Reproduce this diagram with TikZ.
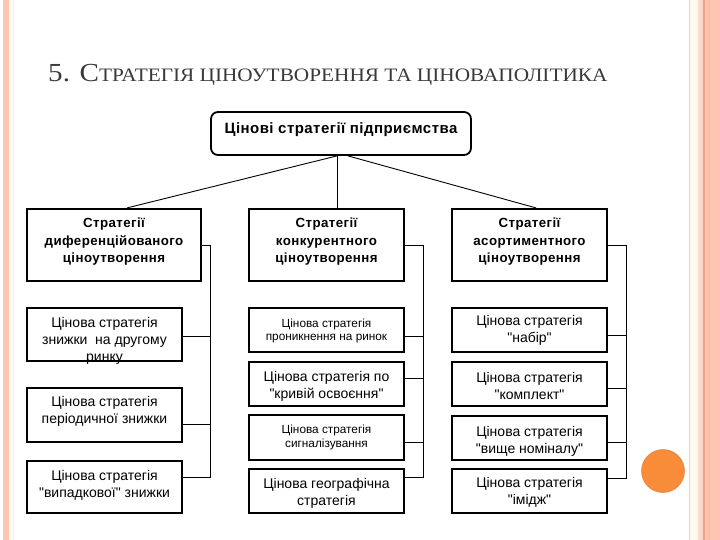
\documentclass[tikz,border=0pt]{standalone}
\usepackage{fontspec}
\setmainfont{Liberation Sans}
\newfontfamily\titlefont{Liberation Serif}
\definecolor{stripe}{HTML}{FCC6B2}
\definecolor{cream}{HTML}{FFF8EC}
\definecolor{salmon}{HTML}{F2A080}
\definecolor{orangedot}{HTML}{F98C38}
\definecolor{titlegray}{HTML}{3A3A3A}
\newcommand{\qq}{\textquotedbl}
\tikzset{
  topbox/.style={draw, line width=1.8pt, rounded corners=7pt, minimum width=260pt, minimum height=43pt, inner sep=0pt},
  lvtwo/.style={draw, line width=2.2pt, minimum height=72pt, inner sep=0pt},
  lvthree/.style={draw, line width=1.1pt, minimum width=155pt, inner sep=0pt},
  boldtxt/.style={align=center, inner sep=0pt, font=\bfseries\fontsize{13.3}{17.5}\selectfont\addfontfeature{LetterSpace=3}},
  normtxt/.style={align=center, inner sep=0pt, font=\fontsize{14}{17}\selectfont},
  smalltxt/.style={align=center, inner sep=0pt, font=\fontsize{11.8}{13.5}\selectfont},
  conn/.style={line width=0.9pt}
}
\begin{document}
\begin{tikzpicture}[x=1pt,y=-1pt]
\useasboundingbox (0,0) rectangle (720,540);
\fill[white] (0,0) rectangle (720,540);
% slide decoration
\fill[stripe] (3,0) rectangle (9,540);
\fill[cream] (10,0) rectangle (12,540);
\fill[stripe!40] (13,0) rectangle (14,540);
\fill[stripe!70!brown!60] (688.5,0) rectangle (690,540);
\fill[cream] (690,0) rectangle (698,540);
\fill[stripe!60] (698,0) rectangle (700,540);
\fill[stripe!70] (700,0) rectangle (703,540);
\fill[salmon] (703,0) rectangle (705,540);
\fill[stripe] (705,0) rectangle (708,540);
\fill[salmon!70] (708,0) rectangle (710,540);
\fill[stripe] (710,0) rectangle (720,540);
\node[circle, fill=orangedot, draw=orangedot!90!black, line width=0.5pt, minimum size=43pt, inner sep=0pt] (dot) at (663,471) {};
% title
\node[anchor=base west, inner sep=0pt, text=titlegray, font=\titlefont] (title) at (48,82)
  {\scalebox{1.12}[1]{\fontsize{26}{26}\selectfont 5. С\fontsize{19}{19}\selectfont ТРАТЕГІЯ ЦІНОУТВОРЕННЯ ТА ЦІНОВАПОЛІТИКА}};
% top
\node[topbox] (top) at (341,133.5) {};
\node[boldtxt, font=\bfseries\fontsize{15}{17}\selectfont\addfontfeature{LetterSpace=3}] (topt) at (341,130) {Цінові стратегії підприємства};
% level 2
\node[lvtwo, minimum width=174pt] (la) at (114,245) {};
\node[boldtxt] (lat) at (114,242) {Стратегії\\диференційованого\\ціноутворення};
\node[lvtwo, minimum width=155pt] (ma) at (326.5,245) {};
\node[boldtxt] (mat) at (326.5,242) {Стратегії\\конкурентного\\ціноутворення};
\node[lvtwo, minimum width=155pt] (ra) at (529.5,245) {};
\node[boldtxt] (rat) at (529.5,242) {Стратегії\\асортиментного\\ціноутворення};
% level 3 left
\node[lvthree, minimum height=53pt] (l1) at (104.5,334.5) {};
\node[normtxt] (l1t) at (104.5,341) {Цінова стратегія\\знижки~~на другому\\ринку};
\node[lvthree, minimum height=54pt] (l2) at (104.5,415) {};
\node[normtxt] (l2t) at (104.5,411) {Цінова стратегія\\періодичної знижки};
\node[lvthree, minimum height=52pt] (l3) at (104.5,487) {};
\node[normtxt] (l3t) at (104.5,485) {Цінова стратегія\\\qq випадкової\qq{} знижки};
% level 3 middle
\node[lvthree, minimum height=44pt] (m1) at (326.5,330) {};
\node[smalltxt] (m1t) at (326.5,331) {Цінова стратегія\\проникнення на ринок};
\node[lvthree, minimum height=44pt] (m2) at (326.5,384) {};
\node[normtxt] (m2t) at (326.5,386) {Цінова стратегія по\\\qq кривій освоєння\qq};
\node[lvthree, minimum height=45pt] (m3) at (326.5,437.5) {};
\node[smalltxt] (m3t) at (326.5,437.5) {Цінова стратегія\\сигналізування};
\node[lvthree, minimum height=44pt] (m4) at (326.5,491) {};
\node[normtxt] (m4t) at (326.5,493) {Цінова географічна\\стратегія};
% level 3 right
\node[lvthree, minimum height=44pt] (r1) at (529.5,330) {};
\node[normtxt] (r1t) at (529.5,330) {Цінова стратегія\\\qq набір\qq};
\node[lvthree, minimum height=44pt] (r2) at (529.5,384) {};
\node[normtxt] (r2t) at (529.5,386) {Цінова стратегія\\\qq комплект\qq};
\node[lvthree, minimum height=44pt] (r3) at (529.5,438) {};
\node[normtxt] (r3t) at (529.5,441) {Цінова стратегія\\\qq вище номіналу\qq};
\node[lvthree, minimum height=44pt] (r4) at (529.5,491) {};
\node[normtxt] (r4t) at (529.5,492) {Цінова стратегія\\\qq імідж\qq};
% top connectors
\coordinate (hub) at ([xshift=-4pt]top.south);
\coordinate (hubr) at ([xshift=7pt]top.south);
\draw[conn] (hub) -- ([xshift=13pt]la.north);
\draw[conn] (hub) -- ([xshift=10.5pt]ma.north);
\draw[conn] (hubr) -- ([xshift=6.5pt]ra.north);
% bus left
\coordinate (busl) at (210,245);
\draw[conn] (la.east |- busl) -- (busl) -- (busl |- 0,477) -- (l3.east |- 0,477);
\draw[conn] (l1.east |- 0,336) -- (busl |- 0,336);
\draw[conn] (l2.east |- 0,424) -- (busl |- 0,424);
% bus middle
\coordinate (busm) at (423,245);
\draw[conn] (ma.east |- busm) -- (busm) -- (busm |- 0,477) -- (m4.east |- 0,477);
\draw[conn] (m1.east |- 0,336) -- (busm |- 0,336);
\draw[conn] (m2.east |- 0,378) -- (busm |- 0,378);
\draw[conn] (m3.east |- 0,442) -- (busm |- 0,442);
% bus right
\coordinate (busr) at (626,245);
\draw[conn] (ra.east |- busr) -- (busr) -- (busr |- 0,478) -- (r4.east |- 0,478);
\draw[conn] (r1.east |- 0,335) -- (busr |- 0,335);
\draw[conn] (r2.east |- 0,388) -- (busr |- 0,388);
\draw[conn] (r3.east |- 0,442) -- (busr |- 0,442);
\end{tikzpicture}
\end{document}
